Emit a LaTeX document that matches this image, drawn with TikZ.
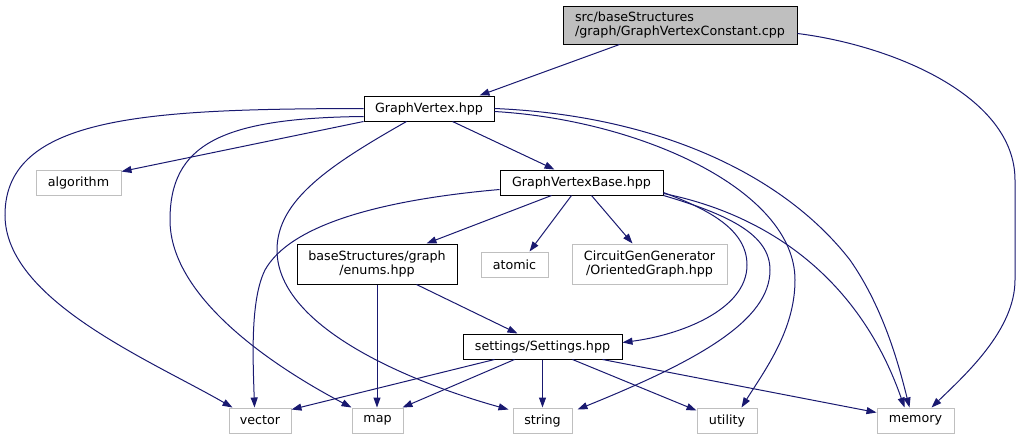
\documentclass[tikz,border=0pt]{standalone}
\usepackage{fontspec}
\setmainfont{DejaVu Sans}
\usetikzlibrary{arrows.meta}
\definecolor{edgec}{HTML}{191970}
\definecolor{missc}{HTML}{BFBFBF}
\begin{document}
\begin{tikzpicture}[x=1pt,y=-1pt,
  every node/.style={font=\fontsize{12.7}{14}\selectfont, inner sep=0pt, align=center},
  fileb/.style={draw=black, fill=white, line width=1pt},
  missb/.style={draw=missc, fill=white, line width=1pt},
  rootb/.style={draw=black, fill=missc, line width=1pt, align=left},
  edge/.style={draw=edgec, line width=1pt, -{Triangle[length=10pt,width=7pt]}}
]
\useasboundingbox (0,0) rectangle (1023,440);
% nodes
\node[rootb, minimum width=234pt, minimum height=38pt] (top) at (680,25) {src/baseStructures\\/graph/GraphVertexConstant.cpp};
\node[fileb, minimum width=130pt, minimum height=25pt] (gv) at (429,108.5) {GraphVertex.hpp};
\node[missb, minimum width=85pt, minimum height=25pt] (alg) at (78.5,182.5) {algorithm};
\node[fileb, minimum width=163pt, minimum height=25pt] (gvb) at (581.5,182.5) {GraphVertexBase.hpp};
\node[fileb, minimum width=160pt, minimum height=40pt] (enums) at (377,264) {baseStructures/graph\\/enums.hpp};
\node[missb, minimum width=67pt, minimum height=25pt] (atomic) at (514.5,264.5) {atomic};
\node[missb, minimum width=155pt, minimum height=40pt] (orient) at (649.5,264) {CircuitGenGenerator\\/OrientedGraph.hpp};
\node[fileb, minimum width=159pt, minimum height=25pt] (settings) at (542.5,346.5) {settings/Settings.hpp};
\node[missb, minimum width=62pt, minimum height=25pt] (vector) at (260,420.5) {vector};
\node[missb, minimum width=51pt, minimum height=25pt] (map) at (377.5,420.5) {map};
\node[missb, minimum width=59pt, minimum height=25pt] (string) at (542.5,420.5) {string};
\node[missb, minimum width=60pt, minimum height=25pt] (utility) at (727,420.5) {utility};
\node[missb, minimum width=77pt, minimum height=25pt] (memory) at (915.5,420.5) {memory};
% edges
\draw[edge] ([xshift=57pt]top.south west) -- ([xshift=116pt]gv.north west);
\draw[edge] ([yshift=-28pt]top.north east) .. controls (890,45) and (1015,95) .. (1015,180) -- (1015,280) .. controls (1015,330) and (965,375) .. ([xshift=55pt]memory.north west);
\draw[edge] (gv.south west) -- ([yshift=-2pt]alg.north east);
\draw[edge] ([yshift=-13pt]gv.north west) .. controls (150,109) and (5,115) .. (5,215) .. controls (5,300) and (150,360) .. ([xshift=4pt]vector.north west);
\draw[edge] ([yshift=-21pt]gv.north west) .. controls (220,118) and (170,145) .. (170,220) .. controls (170,300) and (280,370) .. (map.north west);
\draw[edge] ([xshift=43pt]gv.south west) .. controls (330,165) and (277,200) .. (277,250) .. controls (277,330) and (420,385) .. ([xshift=-4pt,yshift=-2pt]string.north west);
\draw[edge] ([xshift=89pt]gv.south west) -- ([xshift=55pt]gvb.north west);
\draw[edge] ([yshift=-16pt]gv.north east) .. controls (640,120) and (795,190) .. (795,280) .. controls (795,330) and (765,370) .. ([xshift=45pt]utility.north west);
\draw[edge] ([yshift=-13pt]gv.north east) .. controls (650,115) and (780,170) .. (850,260) .. controls (885,310) and (900,370) .. ([xshift=33pt]memory.north west);
\draw[edge] ([yshift=-20pt]gvb.north west) .. controls (380,200) and (290,225) .. (265,270) .. controls (250,300) and (253,360) .. ([xshift=26pt]vector.north west);
\draw[edge] ([xshift=52pt]gvb.south west) -- ([xshift=130pt]enums.north west);
\draw[edge] ([xshift=72pt]gvb.south west) -- ([xshift=49pt]atomic.north west);
\draw[edge] ([xshift=92pt]gvb.south west) -- ([xshift=61pt]orient.north west);
\draw[edge] ([yshift=-23pt]gvb.north east) .. controls (710,210) and (747,230) .. (747,265) .. controls (747,310) and (680,335) .. ([yshift=-9pt]settings.north east);
\draw[edge] (gvb.south east) .. controls (730,215) and (770,235) .. (770,270) .. controls (770,320) and (700,360) .. ([xshift=5pt,yshift=-2pt]string.north east);
\draw[edge] ([yshift=-24pt]gvb.north east) .. controls (770,215) and (860,280) .. ([xshift=28pt]memory.north west);
\draw[edge] (enums.south) -- (enums.south |- map.north);
\draw[edge] ([xshift=120pt]enums.south west) -- ([xshift=55pt]settings.north west);
\draw[edge] ([xshift=32pt]settings.south west) -- ([yshift=-2pt]vector.north east);
\draw[edge] ([xshift=52pt]settings.south west) -- ([xshift=-1pt]map.north east);
\draw[edge] (settings.south) -- (string.north);
\draw[edge] ([xshift=110pt]settings.south west) -- ([yshift=-3pt]utility.north west);
\draw[edge] ([xshift=140pt]settings.south west) -- ([yshift=-5pt]memory.north west);
\end{tikzpicture}
\end{document}
